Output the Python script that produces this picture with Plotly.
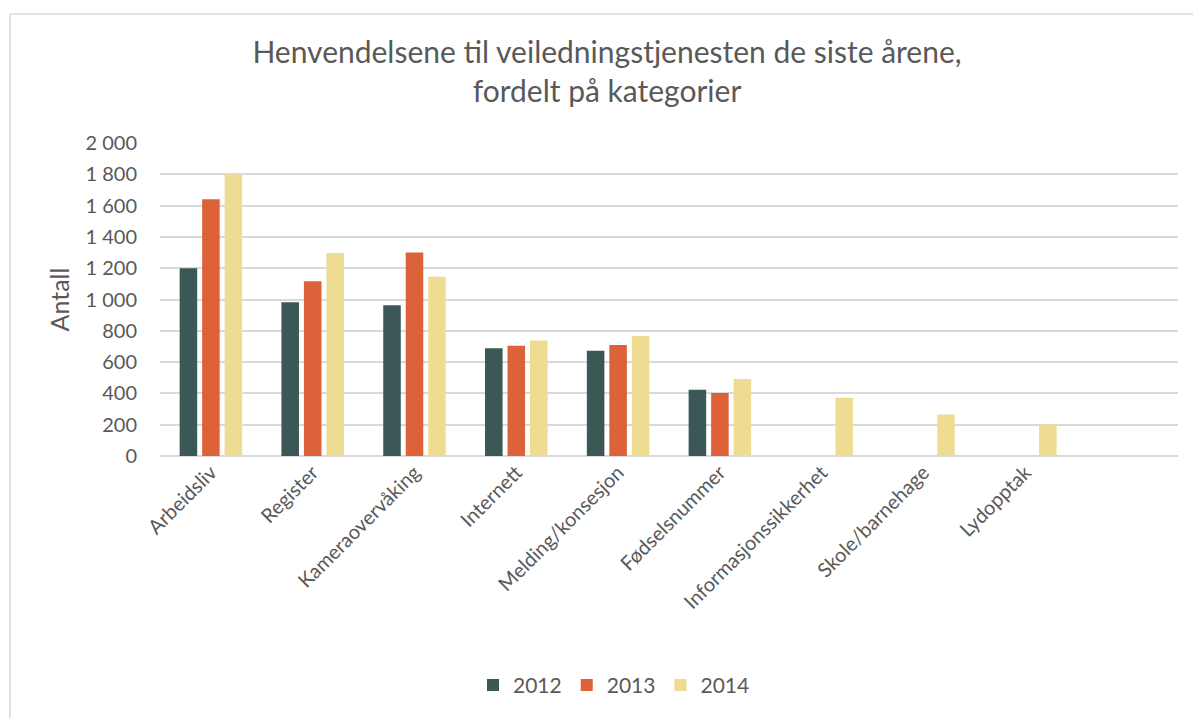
import plotly.graph_objects as go

categories = ["Arbeidsliv", "Register", "Kameraovervåking", "Internett", "Melding/konsesjon",
              "Fødselsnummer", "Informasjonssikkerhet", "Skole/barnehage", "Lydopptak"]
years = ["2012", "2013", "2014"]
values_2012 = [1200, 982, 963, 689, 672, 424, None, None, None]
values_2013 = [1640, 1117, 1300, 704, 710, 403, None, None, None]
values_2014 = [1800, 1297, 1145, 738, 766, 492, 373, 265, 202]
colors = ["#3B5856", "#DD6239", "#EEDC93"]

y_ticks = list(range(0, 2001, 200))
title_text = "Henvendelsene til veiledningstjenesten de siste årene,<br>fordelt på kategorier"
y_title = "Antall"

FONT = "Lato, 'Open Sans', sans-serif"
GREY = "#595959"

fig = go.Figure()
for name, vals, col in zip(years, [values_2012, values_2013, values_2014], colors):
    fig.add_trace(go.Bar(name=name, x=categories, y=vals, marker=dict(color=col, line=dict(width=0))))

# page has an 8px body margin; figure coordinates = page coordinates - 8
OFF = 8
W, H = 1193, 710
L, R, T, B = 160 - OFF, W - (1178 - OFF), 143 - OFF, H - (461 - OFF)
pw = W - L - R
ph = H - T - B

def px_x(X):
    return (X - OFF - L) / pw

def px_y(Y):
    return (H - B - (Y - OFF)) / ph

fig.update_layout(
    width=W, height=H,
    margin=dict(l=L, r=R, t=T, b=B),
    paper_bgcolor="white", plot_bgcolor="white",
    separators=", ",
    font=dict(family=FONT, color=GREY, size=20),
    title=dict(text=title_text, x=(607 - OFF) / W, xref="container", xanchor="center",
               y=0.922, yref="container", yanchor="top",
               font=dict(family=FONT, size=30, color=GREY)),
    barmode="group", bargap=0.337, bargroupgap=0.22,
    showlegend=True,
    legend=dict(orientation="h", x=px_x(614), xanchor="center", y=px_y(694), yanchor="middle",
                font=dict(size=21, color=GREY), traceorder="normal", itemwidth=30),
    xaxis=dict(type="category", range=[-0.5, 9.5], tickangle=-45, showgrid=False,
               showline=False, ticks="", tickfont=dict(size=20, color=GREY)),
    yaxis=dict(range=[0, 2000], tickvals=y_ticks, tickformat=",d",
               showgrid=True, gridcolor="#D9D9D9", gridwidth=1.5,
               zeroline=True, zerolinecolor="#D9D9D9", zerolinewidth=1.5,
               showline=False, ticks="", ticklabelstandoff=22,
               tickfont=dict(size=20, color=GREY),
               title=dict(text=y_title, font=dict(size=25, color=GREY), standoff=8)),
    shapes=[
        dict(type="line", xref="paper", yref="paper", x0=px_x(10), x1=px_x(1215), y0=px_y(12), y1=px_y(12),
             line=dict(color="#D9D9D9", width=1.5)),
        dict(type="line", xref="paper", yref="paper", x0=px_x(10), x1=px_x(10), y0=px_y(12), y1=px_y(730),
             line=dict(color="#D9D9D9", width=1.5)),
    ],
)

fig.write_html("out.html")
